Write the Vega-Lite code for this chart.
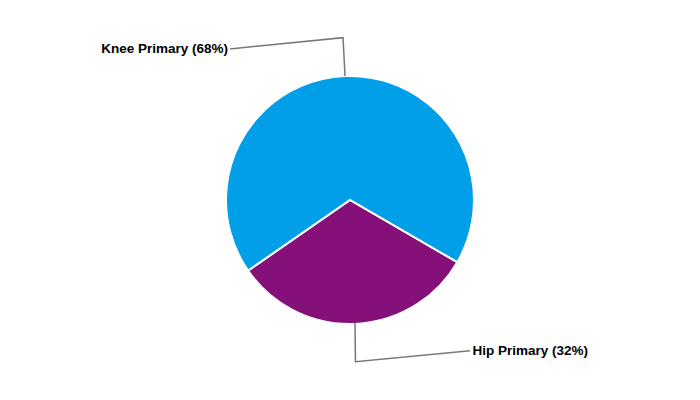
{
  "$schema": "https://vega.github.io/schema/vega-lite/v6.json",
  "width": 700,
  "height": 400,
  "padding": 0,
  "autosize": {"type": "fit", "contains": "padding"},
  "background": "white",
  "config": {"view": {"stroke": null}},
  "layer": [
    {
      "data": {"values": [
        {"category": "Hip Primary", "value": 32, "ord": 1},
        {"category": "Knee Primary", "value": 68, "ord": 2}
      ]},
      "mark": {"type": "arc", "outerRadius": 124, "stroke": "white", "strokeWidth": 2},
      "encoding": {
        "theta": {"field": "value", "type": "quantitative", "stack": true, "scale": {"range": [2.096, 8.379]}},
        "order": {"field": "ord", "type": "quantitative"},
        "color": {"field": "category", "type": "nominal", "legend": null,
          "scale": {"domain": ["Knee Primary", "Hip Primary"], "range": ["#009FE8", "#85107A"]}}
      }
    },
    {
      "data": {"values": [
        {"label": "Knee", "px": -0.04, "py": 1.0, "k": 1},
        {"label": "Knee", "px": -0.0565, "py": 1.309, "k": 2},
        {"label": "Knee", "px": -0.968, "py": 1.218, "k": 3},
        {"label": "Hip", "px": 0.0403, "py": -0.99, "k": 1},
        {"label": "Hip", "px": 0.044, "py": -1.304, "k": 2},
        {"label": "Hip", "px": 0.968, "py": -1.215, "k": 3}
      ]},
      "mark": {"type": "line", "color": "#777777", "strokeWidth": 1.5},
      "encoding": {
        "x": {"field": "px", "type": "quantitative", "axis": null, "scale": {"domain": [-2.8226, 2.8226], "nice": false, "zero": false}},
        "y": {"field": "py", "type": "quantitative", "axis": null, "scale": {"domain": [-1.6129, 1.6129], "nice": false, "zero": false}},
        "detail": {"field": "label"},
        "order": {"field": "k", "type": "quantitative"}
      }
    },
    {
      "data": {"values": [{"text": "Knee Primary (68%)", "px": -0.984, "py": 1.218}]},
      "mark": {"type": "text", "align": "right", "baseline": "middle", "fontWeight": "bold", "fontSize": 13.5, "font": "Liberation Sans", "color": "black"},
      "encoding": {
        "x": {"field": "px", "type": "quantitative", "axis": null, "scale": {"domain": [-2.8226, 2.8226], "nice": false, "zero": false}},
        "y": {"field": "py", "type": "quantitative", "axis": null, "scale": {"domain": [-1.6129, 1.6129], "nice": false, "zero": false}},
        "text": {"field": "text"}
      }
    },
    {
      "data": {"values": [{"text": "Hip Primary (32%)", "px": 0.988, "py": -1.215}]},
      "mark": {"type": "text", "align": "left", "baseline": "middle", "fontWeight": "bold", "fontSize": 13.5, "font": "Liberation Sans", "color": "black"},
      "encoding": {
        "x": {"field": "px", "type": "quantitative", "axis": null, "scale": {"domain": [-2.8226, 2.8226], "nice": false, "zero": false}},
        "y": {"field": "py", "type": "quantitative", "axis": null, "scale": {"domain": [-1.6129, 1.6129], "nice": false, "zero": false}},
        "text": {"field": "text"}
      }
    }
  ]
}
